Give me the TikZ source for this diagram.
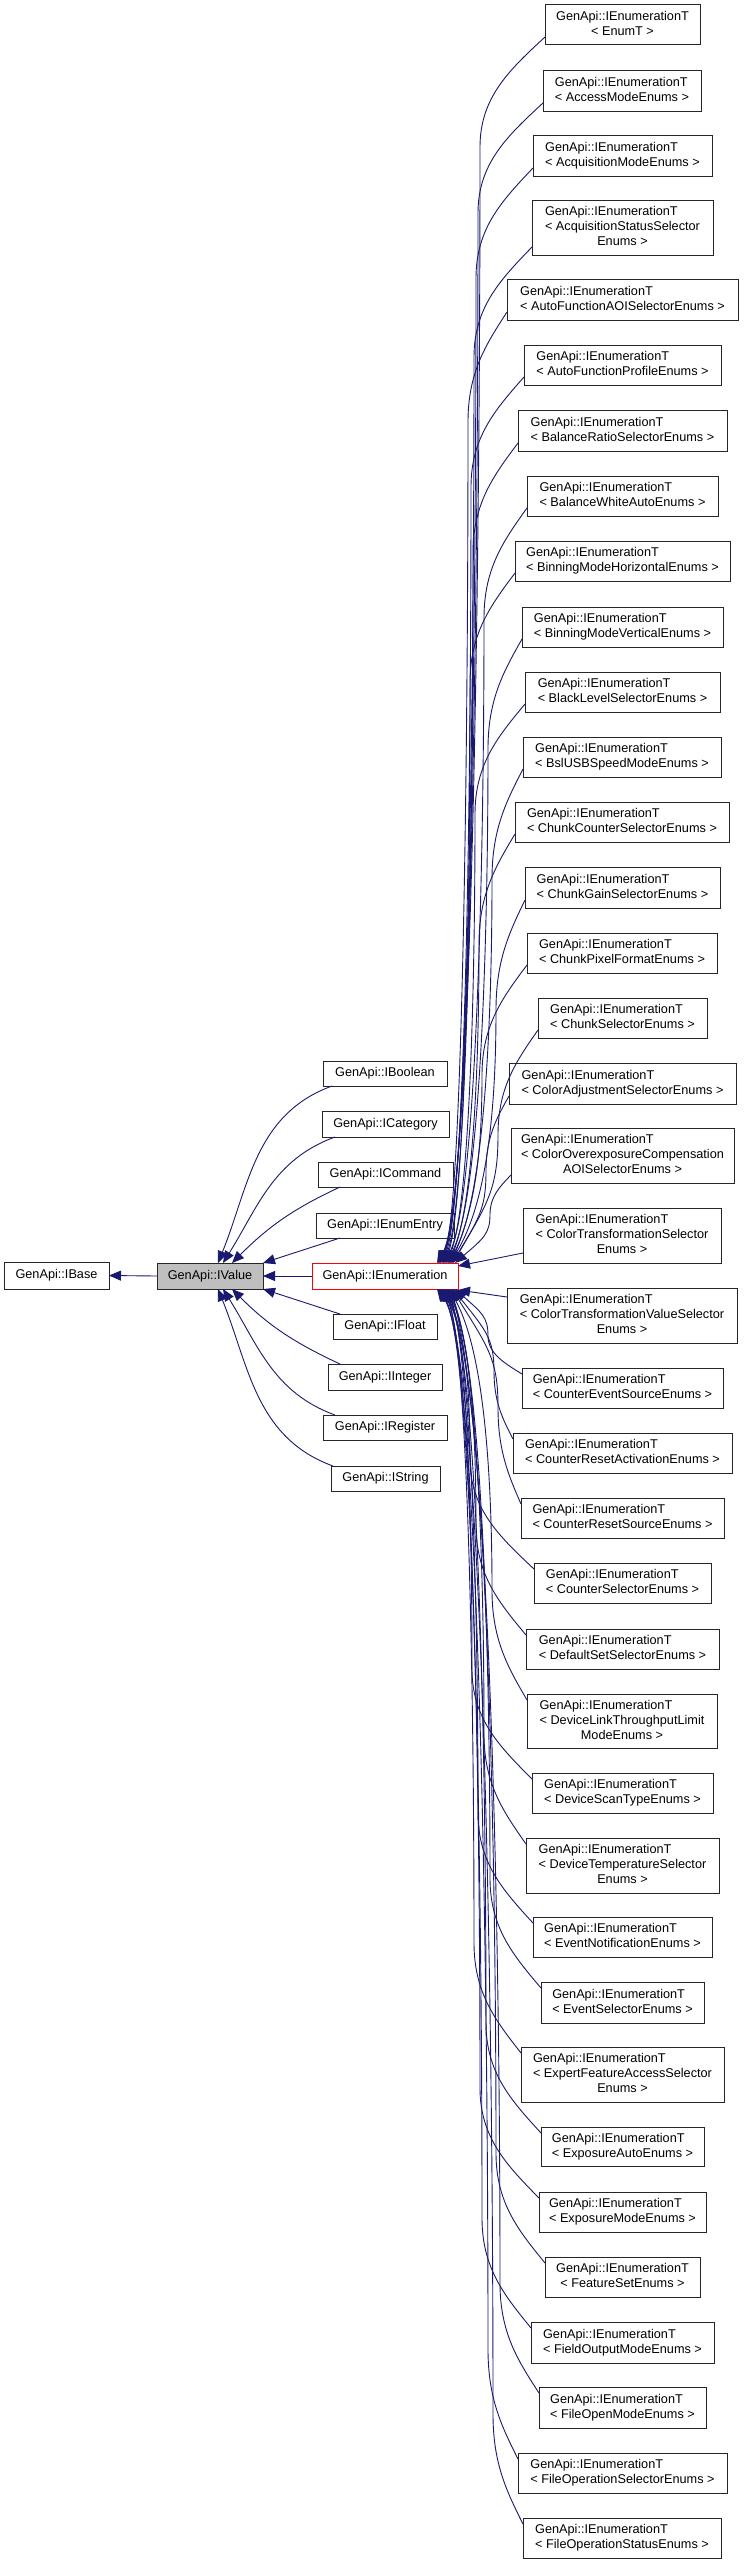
\documentclass[tikz,border=0pt]{standalone}
\usepackage{fontspec}
\setmainfont{Liberation Sans}
\usetikzlibrary{arrows.meta,calc}
\definecolor{edgeblue}{HTML}{191970}
\newcommand\twol[1]{\begin{tabular}{@{}l@{}}GenApi::IEnumerationT\\\multicolumn{1}{@{}c@{}}{< #1 >}\end{tabular}}
\newcommand\threel[2]{\begin{tabular}{@{}l@{}}GenApi::IEnumerationT\\< #1\\\multicolumn{1}{@{}c@{}}{#2 >}\end{tabular}}
\newcommand\bx[7][]{\node[box,#1,minimum width={(#5-#3)*1pt},minimum height={(#6-#4)*1pt}] (#2) at ({(#3+#5)/2},{-(#4+#6)/2}) {#7};}
\newcommand\topedge[3]{%
\draw[edge] let \p1=([yshift=8pt]#1.south west), \p2=([xshift=#2pt]ienum.north east),
 \n1={min(110,0.45*(\y1-\y2))}, \n2={\y1-\n1-\y2}, \n3={min(60,0.5*\n2)} in
 (\p2) .. controls ({\x2+0.8*(#3-\x2)},{\y2+\n3}) and (#3,{\y2+0.6*\n2}) .. (#3,{\y1-\n1})
 .. controls (#3,{\y1-0.55*\n1}) and ({\x1-0.55*(\x1-#3)},{\y1-0.3*\n1}) .. (\p1);}
\newcommand\botedge[3]{%
\draw[edge] let \p1=([yshift=-6pt]#1.north west), \p2=([xshift=#2pt]ienum.south east),
 \n1={min(110,0.45*(\y2-\y1))}, \n2={\y2-\y1-\n1}, \n3={min(60,0.5*\n2)} in
 (\p2) .. controls ({\x2+0.8*(#3-\x2)},{\y2-\n3}) and (#3,{\y2-0.6*\n2}) .. (#3,{\y1+\n1})
 .. controls (#3,{\y1+0.55*\n1}) and ({\x1-0.55*(\x1-#3)},{\y1+0.3*\n1}) .. (\p1);}
\begin{document}
\begin{tikzpicture}[x=1pt,y=1pt,
  box/.style={draw=black!85,line width=1pt,fill=white,inner sep=0pt,outer sep=0pt,
    font=\fontsize{12.7}{15}\selectfont},
  edge/.style={draw=edgeblue,line width=0.9pt,{Triangle[length=12pt,width=10pt]}-}]
\useasboundingbox (0,0) rectangle (744,-2564);
\fill[white] (0,0) rectangle (744,-2564);
% left part
\bx{ibase}{4}{1262}{109}{1289}{GenApi::IBase}
\bx[fill=gray!50]{ivalue}{157}{1263}{263}{1289}{GenApi::IValue}
\bx[draw=red]{ienum}{312}{1263}{458}{1289}{GenApi::IEnumeration}
\bx{iboolean}{323}{1061}{447}{1086}{GenApi::IBoolean}
\bx{icategory}{322}{1111}{449}{1137}{GenApi::ICategory}
\bx{icommand}{318}{1162}{453}{1187}{GenApi::ICommand}
\bx{ienumentry}{316}{1213}{454}{1238}{GenApi::IEnumEntry}
\bx{ifloat}{333}{1314}{437}{1339}{GenApi::IFloat}
\bx{iinteger}{328}{1364}{442}{1390}{GenApi::IInteger}
\bx{iregister}{323}{1415}{447}{1440}{GenApi::IRegister}
\bx{istring}{331}{1466}{440}{1491}{GenApi::IString}
% right column
\bx{e1}{545}{5}{700}{45}{\twol{EnumT}}
\bx{e2}{543}{71}{701}{111}{\twol{AccessModeEnums}}
\bx{e3}{533}{135}{712}{176}{\twol{AcquisitionModeEnums}}
\bx{e4}{532}{200}{713}{255}{\threel{AcquisitionStatusSelector}{Enums}}
\bx{e5}{507}{279}{738}{320}{\twol{AutoFunctionAOISelectorEnums}}
\bx{e6}{524}{345}{721}{385}{\twol{AutoFunctionProfileEnums}}
\bx{e7}{518}{410}{727}{451}{\twol{BalanceRatioSelectorEnums}}
\bx{e8}{527}{476}{718}{516}{\twol{BalanceWhiteAutoEnums}}
\bx{e9}{515}{541}{730}{581}{\twol{BinningModeHorizontalEnums}}
\bx{e10}{522}{607}{723}{647}{\twol{BinningModeVerticalEnums}}
\bx{e11}{525}{672}{720}{712}{\twol{BlackLevelSelectorEnums}}
\bx{e12}{523}{737}{721}{777}{\twol{BslUSBSpeedModeEnums}}
\bx{e13}{515}{802}{729}{842}{\twol{ChunkCounterSelectorEnums}}
\bx{e14}{525}{867}{720}{908}{\twol{ChunkGainSelectorEnums}}
\bx{e15}{527}{933}{717}{973}{\twol{ChunkPixelFormatEnums}}
\bx{e16}{538}{998}{707}{1038}{\twol{ChunkSelectorEnums}}
\bx{e17}{509}{1063}{736}{1104}{\twol{ColorAdjustmentSelectorEnums}}
\bx{e18}{511}{1128}{734}{1183}{\threel{ColorOverexposureCompensation}{AOISelectorEnums}}
\bx{e19}{523}{1208}{721}{1263}{\threel{ColorTransformationSelector}{Enums}}
\bx{e20}{507}{1288}{737}{1343}{\threel{ColorTransformationValueSelector}{Enums}}
\bx{e21}{522}{1368}{723}{1408}{\twol{CounterEventSourceEnums}}
\bx{e22}{513}{1433}{732}{1473}{\twol{CounterResetActivationEnums}}
\bx{e23}{521}{1498}{724}{1538}{\twol{CounterResetSourceEnums}}
\bx{e24}{534}{1563}{711}{1603}{\twol{CounterSelectorEnums}}
\bx{e25}{526}{1629}{719}{1669}{\twol{DefaultSetSelectorEnums}}
\bx{e26}{527}{1694}{717}{1748}{\threel{DeviceLinkThroughputLimit}{ModeEnums}}
\bx{e27}{532}{1773}{713}{1813}{\twol{DeviceScanTypeEnums}}
\bx{e28}{526}{1838}{719}{1893}{\threel{DeviceTemperatureSelector}{Enums}}
\bx{e29}{533}{1917}{712}{1957}{\twol{EventNotificationEnums}}
\bx{e30}{541}{1982}{704}{2023}{\twol{EventSelectorEnums}}
\bx{e31}{521}{2047}{724}{2102}{\threel{ExpertFeatureAccessSelector}{Enums}}
\bx{e32}{541}{2127}{704}{2166}{\twol{ExposureAutoEnums}}
\bx{e33}{539}{2192}{706}{2232}{\twol{ExposureModeEnums}}
\bx{e34}{545}{2257}{700}{2297}{\twol{FeatureSetEnums}}
\bx{e35}{531}{2322}{714}{2363}{\twol{FieldOutputModeEnums}}
\bx{e36}{539}{2387}{706}{2428}{\twol{FileOpenModeEnums}}
\bx{e37}{518}{2453}{727}{2493}{\twol{FileOperationSelectorEnums}}
\bx{e38}{523}{2518}{721}{2558}{\twol{FileOperationStatusEnums}}
% edges of the left part
\draw[edge] (ibase.east) -- (ivalue.west);
\draw[edge] (ivalue.east) -- (ienum.west);
\draw[edge] ([xshift=8pt]ivalue.north) to[out=68,in=200] ([xshift=9pt]iboolean.south west);
\draw[edge] ([xshift=13pt]ivalue.north) to[out=58,in=200] ([xshift=13pt]icategory.south west);
\draw[edge] ([xshift=22pt]ivalue.north) to[out=45,in=205] ([xshift=22pt]icommand.south west);
\draw[edge] (ivalue.north east) -- ([xshift=24pt]ienumentry.south west);
\draw[edge] (ivalue.south east) -- ([xshift=7pt]ifloat.north west);
\draw[edge] ([xshift=22pt]ivalue.south) to[out=-45,in=155] ([xshift=12pt]iinteger.north west);
\draw[edge] ([xshift=13pt]ivalue.south) to[out=-58,in=160] ([xshift=12pt]iregister.north west);
\draw[edge] ([xshift=8pt]ivalue.south) to[out=-68,in=160] ([xshift=2pt]istring.north west);
% edges to the right column, upper half
\topedge{e1}{-21}{480}
\topedge{e2}{-20}{478}
\topedge{e3}{-19}{476}
\topedge{e4}{-18}{474}
\topedge{e5}{-17}{468}
\topedge{e6}{-16}{471}
\topedge{e7}{-15}{473}
\topedge{e8}{-14}{484}
\topedge{e9}{-13}{470}
\topedge{e10}{-12}{488}
\topedge{e11}{-11}{475}
\topedge{e12}{-10}{492}
\topedge{e13}{-9}{479}
\topedge{e14}{-8}{496}
\topedge{e15}{-7}{482}
\topedge{e16}{-6}{498}
\topedge{e17}{-5}{486}
\topedge{e18}{-3}{490}
\draw[edge] ([yshift=10pt]ienum.east) -- ([yshift=10pt]e19.south west);
\draw[edge] ([yshift=-14pt]ienum.east) -- ([yshift=-9pt]e20.north west);
% edges to the right column, lower half
\botedge{e21}{-3}{488}
\botedge{e22}{-5}{494}
\botedge{e23}{-6}{498}
\botedge{e24}{-7}{470}
\botedge{e25}{-8}{476}
\botedge{e26}{-9}{492}
\botedge{e27}{-10}{472}
\botedge{e28}{-11}{484}
\botedge{e29}{-12}{478}
\botedge{e30}{-13}{490}
\botedge{e31}{-14}{474}
\botedge{e32}{-15}{486}
\botedge{e33}{-16}{480}
\botedge{e34}{-17}{496}
\botedge{e35}{-18}{482}
\botedge{e36}{-19}{500}
\botedge{e37}{-20}{488}
\botedge{e38}{-21}{493}
\end{tikzpicture}
\end{document}
